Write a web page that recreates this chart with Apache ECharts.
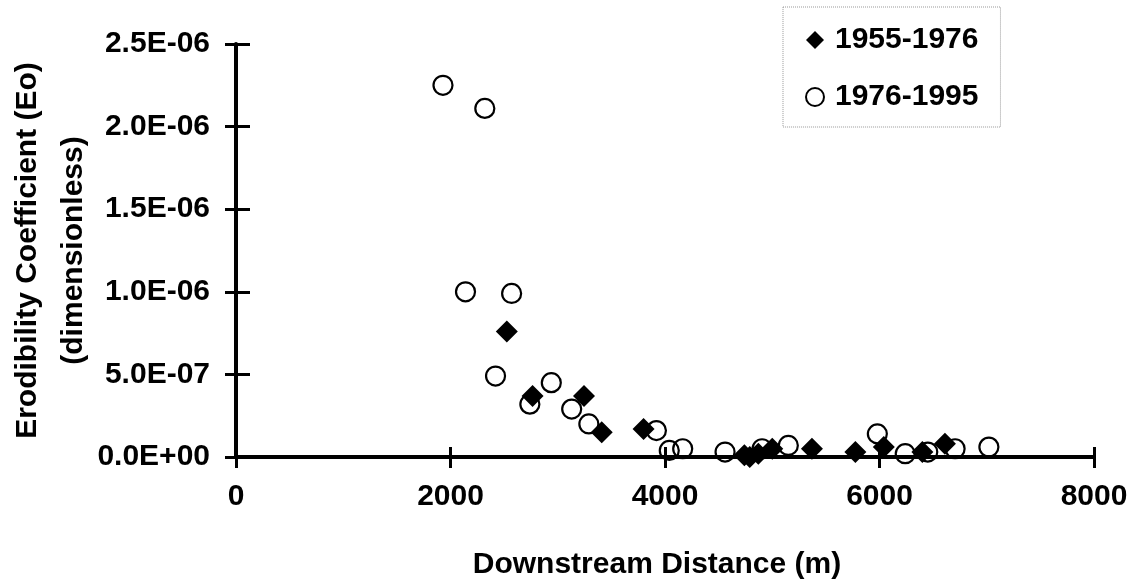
<!DOCTYPE html>
<html>
<head>
<meta charset="utf-8">
<style>
html,body{margin:0;padding:0;background:#fff;}
#chart{width:1136px;height:581px;}
</style>
<script src="https://cdn.jsdelivr.net/npm/echarts@6/dist/echarts.min.js"></script>
</head>
<body>
<div id="chart"></div>
<script>
// Series names
var seriesNames = ['1955-1976', '1976-1995'];
// 1955-1976 (filled diamonds): [distance m, Eo]
var data1955 = [
  [2525, 0.76e-6], [2765, 0.37e-6], [3245, 0.37e-6], [3410, 0.15e-6],
  [3800, 0.17e-6], [4740, 0.01e-6], [4790, 0.00e-6], [4870, 0.02e-6],
  [5000, 0.05e-6], [5370, 0.05e-6], [5775, 0.03e-6], [6040, 0.06e-6],
  [6400, 0.03e-6], [6610, 0.08e-6]
];
// 1976-1995 (open circles): [distance m, Eo]
var data1976 = [
  [1930, 2.25e-6], [2320, 2.11e-6], [2140, 1.00e-6], [2570, 0.99e-6],
  [2420, 0.49e-6], [2940, 0.45e-6], [2740, 0.32e-6], [3130, 0.29e-6],
  [3290, 0.20e-6], [3920, 0.16e-6], [4040, 0.04e-6], [4165, 0.05e-6],
  [4560, 0.03e-6], [4905, 0.05e-6], [5150, 0.07e-6], [5980, 0.14e-6],
  [6240, 0.02e-6], [6450, 0.03e-6], [6705, 0.05e-6], [7020, 0.06e-6]
];
// Tick labels
var xTickLabels = ['0', '2000', '4000', '6000', '8000'];
var yTickLabels = ['0.0E+00', '5.0E-07', '1.0E-06', '1.5E-06', '2.0E-06', '2.5E-06'];
var xTitle = 'Downstream Distance (m)';
var yTitle = 'Erodibility Coefficient (Eo)\n(dimensionless)';

var FONT = '"Liberation Sans", Arial, sans-serif';
var gridRect = {left: 236, right: 42, top: 44, bottom: 124, containLabel: false, outerBoundsMode: 'none'};

var chart = echarts.init(document.getElementById('chart'), null, {renderer: 'canvas'});

var xBase = {type: 'value', min: 0, max: 8000, interval: 2000, splitLine: {show: false}};
var yBase = {type: 'value', min: 0, max: 2.5e-6, interval: 5e-7, splitLine: {show: false}};

var option = {
  backgroundColor: '#ffffff',
  animation: false,
  grid: [Object.assign({}, gridRect), Object.assign({}, gridRect)],
  legend: {
    orient: 'vertical',
    left: 783, top: 7,
    padding: [18, 22, 15, 22],
    itemGap: 27,
    itemWidth: 18, itemHeight: 18,
    borderColor: '#999', borderWidth: 1, borderType: 'dotted',
    textStyle: {fontFamily: FONT, fontSize: 30, fontWeight: 'bold', color: '#000', lineHeight: 30, padding: [0, 0, 0, 6]},
    data: seriesNames
  },
  xAxis: [
    Object.assign({}, xBase, {
      gridIndex: 0, position: 'bottom',
      name: xTitle, nameLocation: 'middle', nameGap: 93, nameMoveOverlap: false,
      nameTextStyle: {fontFamily: FONT, fontSize: 30, fontWeight: 'bold', color: '#000', padding: [0, 16, 0, 0]},
      axisLine: {show: true, onZero: false, lineStyle: {color: '#000', width: 4}},
      axisTick: {show: true, inside: false, length: 11, lineStyle: {color: '#000', width: 3}},
      axisLabel: {show: true, margin: 25, fontFamily: FONT, fontSize: 30, fontWeight: 'bold', color: '#000',
        formatter: function (v, i) { return xTickLabels[i]; }}
    }),
    // companion axis on an identical grid: inner half of the crossing ticks
    Object.assign({}, xBase, {
      gridIndex: 1, position: 'bottom',
      axisLine: {show: false, onZero: false},
      axisTick: {show: true, inside: true, length: 10, lineStyle: {color: '#000', width: 3}},
      axisLabel: {show: false}
    })
  ],
  yAxis: [
    Object.assign({}, yBase, {
      gridIndex: 0, position: 'left',
      name: yTitle, nameLocation: 'middle', nameGap: 139, nameMoveOverlap: false,
      nameTextStyle: {fontFamily: FONT, fontSize: 30, fontWeight: 'bold', color: '#000', lineHeight: 46, align: 'center'},
      axisLine: {show: true, onZero: false, lineStyle: {color: '#000', width: 4}},
      axisTick: {show: true, inside: false, length: 11, lineStyle: {color: '#000', width: 3}},
      axisLabel: {show: true, margin: 26, fontFamily: FONT, fontSize: 30, fontWeight: 'bold', color: '#000',
        formatter: function (v, i) { return yTickLabels[i]; }}
    }),
    Object.assign({}, yBase, {
      gridIndex: 1, position: 'left',
      axisLine: {show: false, onZero: false},
      axisTick: {show: true, inside: true, length: 14, lineStyle: {color: '#000', width: 3}},
      axisLabel: {show: false}
    })
  ],
  series: [
    {
      name: seriesNames[0], type: 'scatter', xAxisIndex: 0, yAxisIndex: 0,
      symbol: 'diamond', symbolSize: 22, z: 3,
      itemStyle: {color: '#000', borderColor: '#000', borderWidth: 0, opacity: 1},
      data: data1955
    },
    {
      name: seriesNames[1], type: 'scatter', xAxisIndex: 0, yAxisIndex: 0,
      symbol: 'circle', symbolSize: 19, z: 2,
      itemStyle: {color: 'rgba(255,255,255,0)', borderColor: '#000', borderWidth: 2.2, opacity: 1},
      data: data1976
    }
  ]
};
chart.setOption(option);
</script>
</body>
</html>
